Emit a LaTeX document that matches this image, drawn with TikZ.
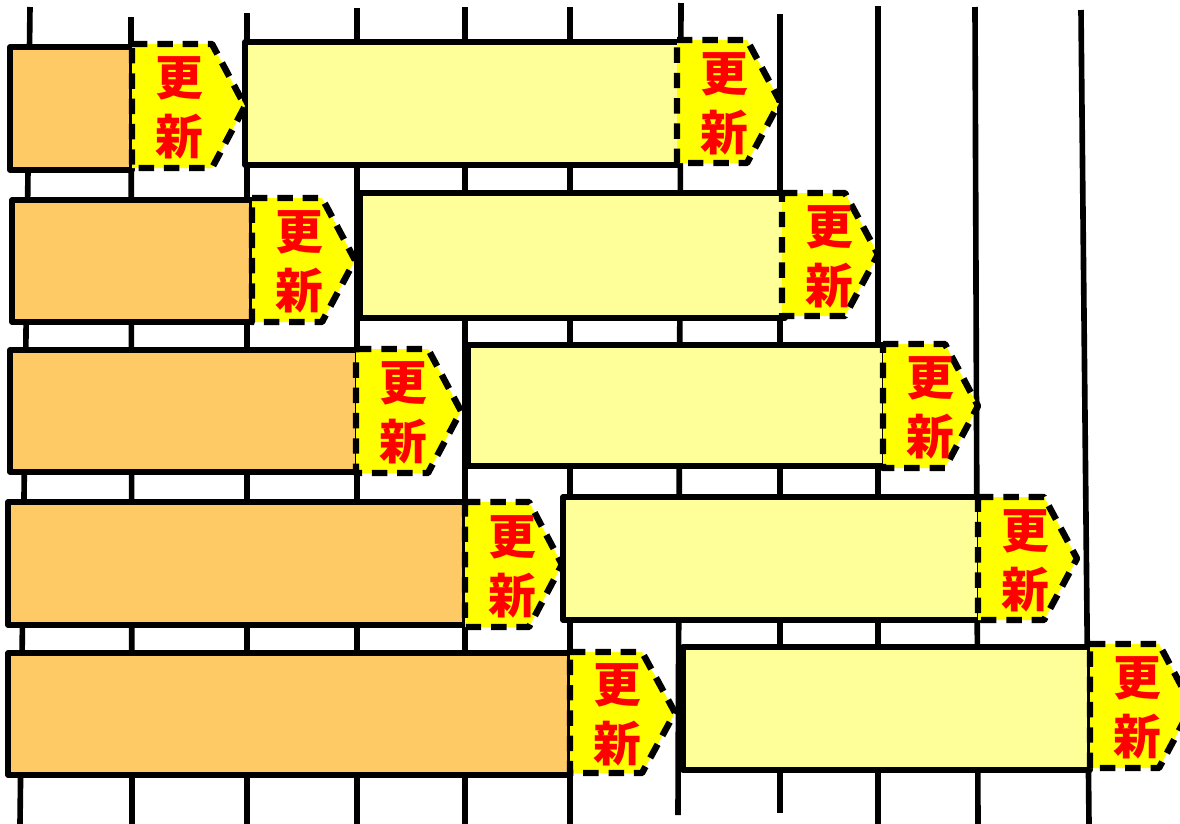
\documentclass[tikz,border=0pt]{standalone}
\usepackage{fontspec}
\newfontfamily\cjk{Noto Sans CJK JP}
\usetikzlibrary{calc}
\definecolor{kizon}{HTML}{FECA66}
\definecolor{shinki}{HTML}{FFFF99}
\definecolor{upd}{HTML}{FFFF00}
\tikzset{
  waku/.style={draw=black,line width=3.8pt,line join=round},
  kugiri/.style={black,line width=4pt},
  updline/.style={draw=black,line width=4.6pt,dash pattern=on 11pt off 7pt,line join=round},
  updtext/.style={text=red,align=center,inner sep=0pt,font=\cjk\bfseries\fontsize{34}{42}\selectfont}
}
% update arrow: name, left, top, bottom, tip
\newcommand{\koushin}[5]{%
  \fill[upd] (#2,#3) -- ({#5-33},#3) -- (#5,{(#3+#4)/2}) -- ({#5-33},#4) -- (#2,#4) -- cycle;
  \draw[updline] (#2,#3) -- ({#5-33},#3) -- (#5,{(#3+#4)/2}) -- ({#5-33},#4) -- (#2,#4) -- cycle;
  \node[updtext] (#1) at ({#2+47},{(#3+#4)/2+2}) {更\\新};
}
\begin{document}
\begin{tikzpicture}[x=0.025cm,y=-0.025cm]
\useasboundingbox (0,0) rectangle (1180,824);
\clip (0,0) rectangle (1180,824);

% time lines
\draw[kugiri] (30,7) -- (20,824);
\draw[kugiri] (131,17) -- (132,824);
\draw[kugiri] (247,13) -- (247,824);
\draw[kugiri] (357,8) -- (357,824);
\draw[kugiri] (465,7) -- (465,824);
\draw[kugiri] (570,7) -- (570,824);
\draw[kugiri] (681,3) -- (678,815);
\draw[kugiri] (780,14) -- (780,813);
\draw[kugiri] (878,6) -- (878,824);
\draw[kugiri] (975,7) -- (978,824);
\draw[kugiri] (1081,10) -- (1089,824);

% row 1
\draw[waku,fill=kizon] (10,47) rectangle (132,170);
\draw[waku,fill=shinki] (245,42) rectangle (680,165);
\koushin{u1a}{132}{44}{168}{245}
\koushin{u1b}{677}{40}{163}{780}

% row 2
\draw[waku,fill=kizon] (12,200) rectangle (252,322);
\draw[waku,fill=shinki] (360,193) rectangle (785,318);
\koushin{u2a}{252}{198}{322}{355}
\koushin{u2b}{782}{193}{316}{878}

% row 3
\draw[waku,fill=kizon] (10,350) rectangle (358,472);
\draw[waku,fill=shinki] (468,345) rectangle (885,466);
\koushin{u3a}{356}{349}{473}{461}
\koushin{u3b}{883}{344}{468}{978}

% row 4
\draw[waku,fill=kizon] (8,502) rectangle (465,625);
\draw[waku,fill=shinki] (563,497) rectangle (980,620);
\koushin{u4a}{465}{502}{627}{562}
\koushin{u4b}{978}{497}{620}{1077}

% row 5
\draw[waku,fill=kizon] (8,653) rectangle (570,775);
\draw[waku,fill=shinki] (683,647) rectangle (1090,770);
\koushin{u5a}{570}{652}{773}{675}
\koushin{u5b}{1090}{644}{768}{1192}
\end{tikzpicture}
\end{document}
